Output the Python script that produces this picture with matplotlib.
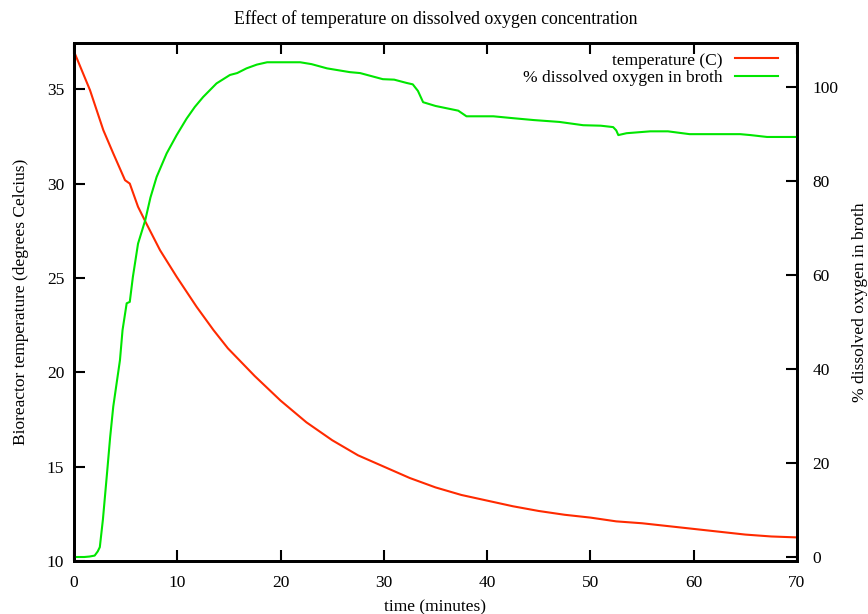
import matplotlib
matplotlib.use('Agg')
import matplotlib.pyplot as plt

plt.rcParams['font.family'] = ['Liberation Serif', 'DejaVu Serif']
plt.rcParams['font.size'] = 12.5

# temperature of the bioreactor (degrees C) vs time (minutes)
temp_t = [0, 1.55, 2.84, 3.8, 4.94, 5.4, 6.2, 7.0, 8.33, 9.94, 11.87, 13.5,
          14.9, 17.5, 20, 22.5, 25, 27.5, 30, 32.5, 35, 37.5, 40, 42.5, 45,
          47.5, 50, 52.5, 55, 57.5, 60, 62.5, 65, 67.5, 70]
temp_c = [37.0, 34.95, 32.83, 31.6, 30.18, 30.0, 28.77, 27.89, 26.47, 25.06,
          23.47, 22.24, 21.27, 19.8, 18.5, 17.35, 16.4, 15.6, 15.0, 14.4,
          13.9, 13.5, 13.2, 12.9, 12.65, 12.45, 12.3, 12.1, 12.0, 11.85, 11.7,
          11.55, 11.4, 11.3, 11.25]

# dissolved oxygen (% of saturation) vs time (minutes)
do_t = [0, 1.0, 1.5, 2.0, 2.3, 2.5, 2.8, 3.2, 3.5, 3.8, 4.45, 4.7, 5.1, 5.4,
        5.7, 6.2, 6.9, 7.4, 8.0, 8.97, 9.94, 10.9, 11.7, 12.5, 13.8, 15.1,
        15.8, 16.7, 17.7, 18.7, 20.0, 21.2, 21.9, 23.0, 24.5, 26.7, 27.7,
        29.9, 31.0, 32.2, 32.8, 33.3, 33.8, 35.0, 36.1, 37.2, 38.0, 40.6, 42.5,
        44.5, 47.0, 49.3, 51.0, 52.2, 52.5, 52.7, 53.5, 55.8, 57.5, 59.6, 62.0,
        64.5, 65.5, 67.1, 70.0]
do_pct = [0, 0, 0.1, 0.3, 1.2, 2.1, 8.0, 17.9, 25.5, 32.0, 41.9, 48.3, 54.0,
          54.3, 59.6, 66.7, 71.7, 76.5, 80.9, 85.9, 89.8, 93.3, 95.8, 97.9,
          100.8, 102.6, 103.0, 104.0, 104.8, 105.3, 105.3, 105.3, 105.3, 104.9,
          104.0, 103.2, 103.0, 101.7, 101.6, 100.9, 100.6, 99.2, 96.8, 96.0,
          95.5, 95.0, 93.8, 93.8, 93.4, 93.0, 92.6, 91.9, 91.8, 91.5, 90.8,
          89.8, 90.2, 90.6, 90.6, 90.0, 90.0, 90.0, 89.8, 89.4, 89.4]

fig = plt.figure(figsize=(8.68, 6.14), dpi=100)
ax = fig.add_axes([74 / 868, 53 / 614, 723 / 868, 518 / 614])
ax2 = ax.twinx()

l1, = ax.plot(temp_t, temp_c, color='#ff2a00', lw=1.5, label='temperature (C)')
l2, = ax2.plot(do_t, do_pct, color='#00e600', lw=1.5,
               label='% dissolved oxygen in broth')

ax.set_xlim(0, 70)
ax.set_ylim(10, 37.45)
ax2.set_ylim(-0.85, 109.4)
ax.set_xticks(range(0, 71, 10))
ax.set_yticks(range(10, 36, 5))
ax2.set_yticks(range(0, 101, 20))

ax.tick_params(axis='x', direction='in', length=8, width=1.5, top=True, pad=10)
ax.tick_params(axis='y', direction='in', length=8, width=1.5, right=False, pad=7)
ax2.tick_params(axis='y', direction='in', length=8, width=1.5, pad=11)
for a in (ax, ax2):
    for s in a.spines.values():
        s.set_linewidth(2)

ax.set_xlabel('time (minutes)', labelpad=6)
ax.set_ylabel('Bioreactor temperature (degrees Celcius)', labelpad=13)
ax2.set_ylabel('% dissolved oxygen in broth', labelpad=10)
ax.set_title('Effect of temperature on dissolved oxygen concentration',
             fontsize=12.8, pad=14)

ax.legend(handles=[l1, l2], loc='upper right', frameon=False, markerfirst=False,
          handlelength=2.45, handletextpad=0.75, labelspacing=0.1,
          bbox_to_anchor=(0.995, 1.012))

fig.savefig('out.png', dpi=100)
